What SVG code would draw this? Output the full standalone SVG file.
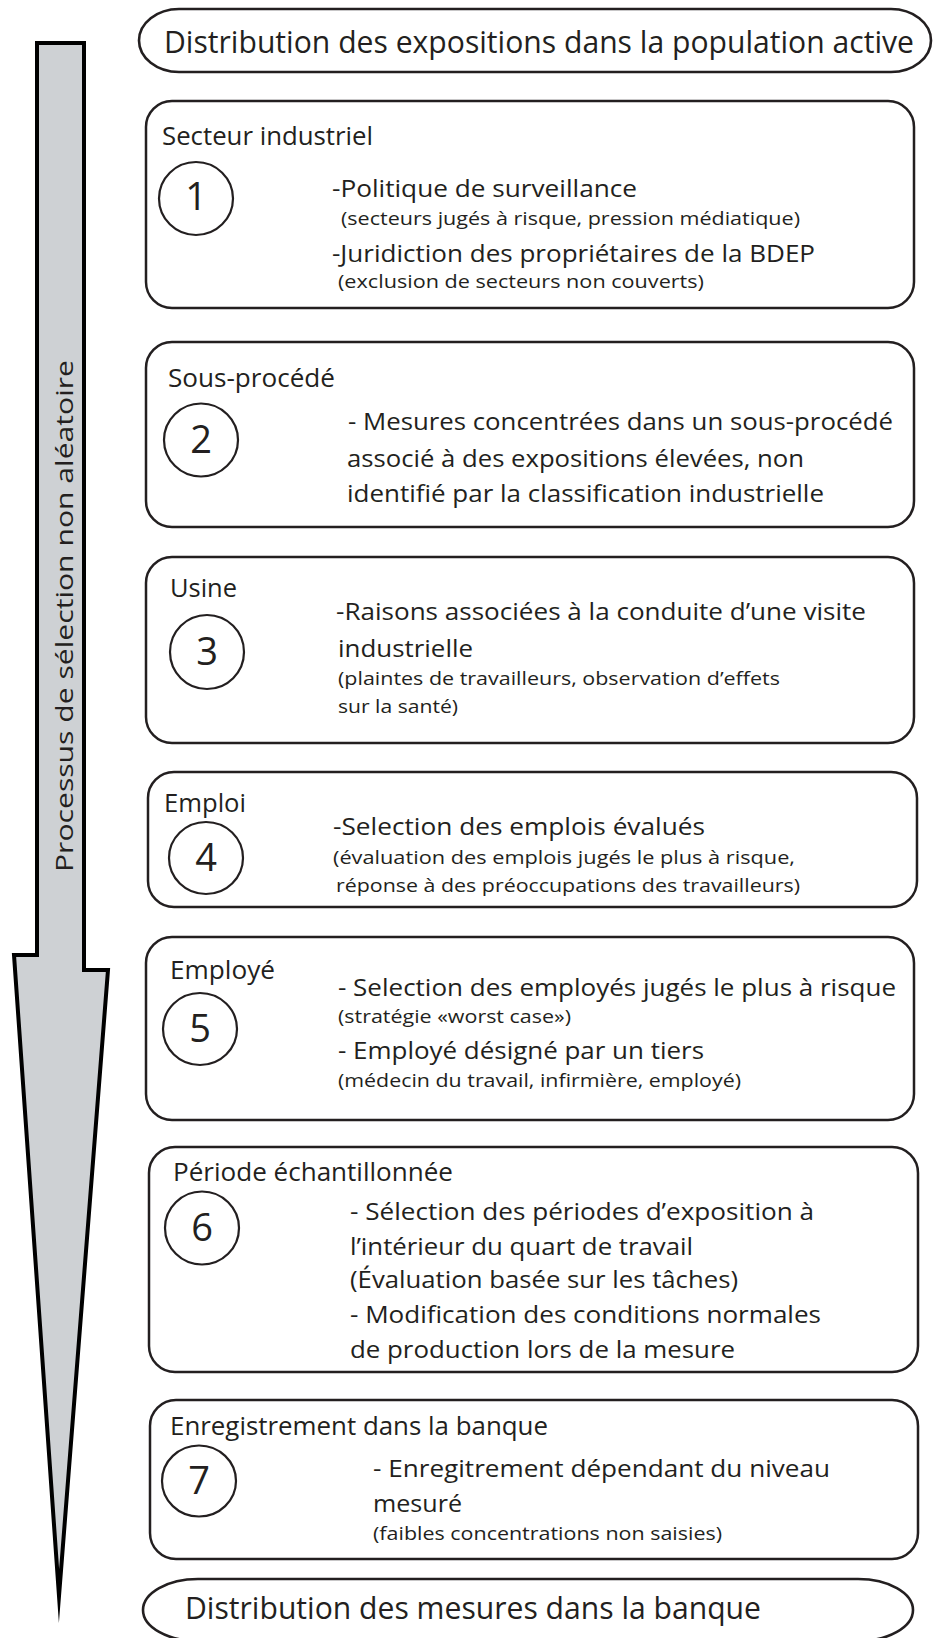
<svg xmlns="http://www.w3.org/2000/svg" width="933" height="1638" viewBox="0 0 933 1638">
<style>
text{font-family:"Open Sans","Noto Sans",sans-serif;fill:#231f20}
.box{fill:#fff;stroke:#231f20;stroke-width:2.5}
.cap{fill:#fff;stroke:#231f20;stroke-width:2.6}
.circ{fill:none;stroke:#231f20;stroke-width:2.2}
.title{font-size:31px}
.lbl{font-size:25px}
.main{font-size:24px}
.sub{font-size:19px}
.num{font-size:38px;text-anchor:middle}
.vert{font-size:24px}
</style>
<rect width="933" height="1638" fill="#fff"/>

<g id="arrow">
<path d="M37,43 L84,43 L84,970 L108,970 L59,1596 L14,955 L37,955 Z" fill="#ced1d4" stroke="#000" stroke-width="4" stroke-linejoin="miter" stroke-miterlimit="20"/>
<text class="vert" transform="translate(73,872) rotate(-90)" x="0" y="0" textLength="512" lengthAdjust="spacingAndGlyphs">Processus de sélection non aléatoire</text>
</g>

<g id="top">
<rect class="cap" x="139" y="9" width="792" height="63" rx="40" ry="31.5"/>
<text class="title" x="164" y="53" textLength="750" lengthAdjust="spacingAndGlyphs">Distribution des expositions dans la population active</text>
</g>

<g id="step1">
<rect class="box" x="146" y="101" width="768" height="207" rx="26"/>
<text class="lbl" x="162" y="145" textLength="211" lengthAdjust="spacingAndGlyphs">Secteur industriel</text>
<ellipse class="circ" cx="196" cy="198.5" rx="37" ry="36.5"/>
<text class="num" x="196" y="210">1</text>
<text class="main" x="332" y="197" textLength="305" lengthAdjust="spacingAndGlyphs">-Politique de surveillance</text>
<text class="sub" x="341" y="225" textLength="459" lengthAdjust="spacingAndGlyphs">(secteurs jugés à risque, pression médiatique)</text>
<text class="main" x="332" y="262" textLength="483" lengthAdjust="spacingAndGlyphs">-Juridiction des propriétaires de la BDEP</text>
<text class="sub" x="338" y="288" textLength="366" lengthAdjust="spacingAndGlyphs">(exclusion de secteurs non couverts)</text>
</g>

<g id="step2">
<rect class="box" x="146" y="342" width="768" height="185" rx="26"/>
<text class="lbl" x="168" y="387" textLength="167" lengthAdjust="spacingAndGlyphs">Sous-procédé</text>
<ellipse class="circ" cx="201" cy="440" rx="37" ry="36.5"/>
<text class="num" x="201" y="453">2</text>
<text class="main" x="348" y="430" textLength="545" lengthAdjust="spacingAndGlyphs">- Mesures concentrées dans un sous-procédé</text>
<text class="main" x="347" y="467" textLength="457" lengthAdjust="spacingAndGlyphs">associé à des expositions élevées, non</text>
<text class="main" x="347" y="502" textLength="477" lengthAdjust="spacingAndGlyphs">identifié par la classification industrielle</text>
</g>

<g id="step3">
<rect class="box" x="146" y="557" width="768" height="186" rx="26"/>
<text class="lbl" x="170" y="597" textLength="67" lengthAdjust="spacingAndGlyphs">Usine</text>
<ellipse class="circ" cx="207" cy="652" rx="37" ry="37"/>
<text class="num" x="207" y="665">3</text>
<text class="main" x="336" y="620" textLength="530" lengthAdjust="spacingAndGlyphs">-Raisons associées à la conduite d’une visite</text>
<text class="main" x="338" y="657" textLength="135" lengthAdjust="spacingAndGlyphs">industrielle</text>
<text class="sub" x="338" y="685" textLength="442" lengthAdjust="spacingAndGlyphs">(plaintes de travailleurs, observation d’effets</text>
<text class="sub" x="338" y="713" textLength="120" lengthAdjust="spacingAndGlyphs">sur la santé)</text>
</g>

<g id="step4">
<rect class="box" x="148" y="772" width="769" height="135" rx="26"/>
<text class="lbl" x="164" y="812" textLength="82" lengthAdjust="spacingAndGlyphs">Emploi</text>
<ellipse class="circ" cx="206" cy="858" rx="37" ry="36"/>
<text class="num" x="206" y="871">4</text>
<text class="main" x="333" y="835" textLength="372" lengthAdjust="spacingAndGlyphs">-Selection des emplois évalués</text>
<text class="sub" x="333" y="864" textLength="462" lengthAdjust="spacingAndGlyphs">(évaluation des emplois jugés le plus à risque,</text>
<text class="sub" x="336" y="892" textLength="464" lengthAdjust="spacingAndGlyphs">réponse à des préoccupations des travailleurs)</text>
</g>

<g id="step5">
<rect class="box" x="146" y="937" width="768" height="183" rx="26"/>
<text class="lbl" x="170" y="979" textLength="105" lengthAdjust="spacingAndGlyphs">Employé</text>
<ellipse class="circ" cx="200" cy="1029" rx="37" ry="36"/>
<text class="num" x="200" y="1042">5</text>
<text class="main" x="338" y="996" textLength="558" lengthAdjust="spacingAndGlyphs">- Selection des employés jugés le plus à risque</text>
<text class="sub" x="338" y="1023" textLength="233" lengthAdjust="spacingAndGlyphs">(stratégie «worst case»)</text>
<text class="main" x="338" y="1059" textLength="366" lengthAdjust="spacingAndGlyphs">- Employé désigné par un tiers</text>
<text class="sub" x="338" y="1087" textLength="403" lengthAdjust="spacingAndGlyphs">(médecin du travail, infirmière, employé)</text>
</g>

<g id="step6">
<rect class="box" x="149" y="1147" width="769" height="225" rx="26"/>
<text class="lbl" x="173" y="1181" textLength="280" lengthAdjust="spacingAndGlyphs">Période échantillonnée</text>
<ellipse class="circ" cx="202" cy="1228" rx="37" ry="36.5"/>
<text class="num" x="202" y="1241">6</text>
<text class="main" x="350" y="1220" textLength="464" lengthAdjust="spacingAndGlyphs">- Sélection des périodes d’exposition à</text>
<text class="main" x="350" y="1255" textLength="343" lengthAdjust="spacingAndGlyphs">l’intérieur du quart de travail</text>
<text class="main" x="350" y="1288" textLength="388" lengthAdjust="spacingAndGlyphs">(Évaluation basée sur les tâches)</text>
<text class="main" x="350" y="1323" textLength="471" lengthAdjust="spacingAndGlyphs">- Modification des conditions normales</text>
<text class="main" x="350" y="1358" textLength="385" lengthAdjust="spacingAndGlyphs">de production lors de la mesure</text>
</g>

<g id="step7">
<rect class="box" x="150" y="1400" width="768" height="159" rx="26"/>
<text class="lbl" x="170" y="1435" textLength="378" lengthAdjust="spacingAndGlyphs">Enregistrement dans la banque</text>
<ellipse class="circ" cx="199" cy="1481" rx="37" ry="35.5"/>
<text class="num" x="199" y="1494">7</text>
<text class="main" x="373" y="1477" textLength="457" lengthAdjust="spacingAndGlyphs">- Enregitrement dépendant du niveau</text>
<text class="main" x="373" y="1512" textLength="89" lengthAdjust="spacingAndGlyphs">mesuré</text>
<text class="sub" x="373" y="1540" textLength="349" lengthAdjust="spacingAndGlyphs">(faibles concentrations non saisies)</text>
</g>

<g id="bottom">
<rect class="cap" x="143" y="1579" width="770" height="62" rx="55" ry="31"/>
<text class="title" x="185" y="1619" textLength="576" lengthAdjust="spacingAndGlyphs">Distribution des mesures dans la banque</text>
</g>

<g id="connectors"></g>
</svg>
